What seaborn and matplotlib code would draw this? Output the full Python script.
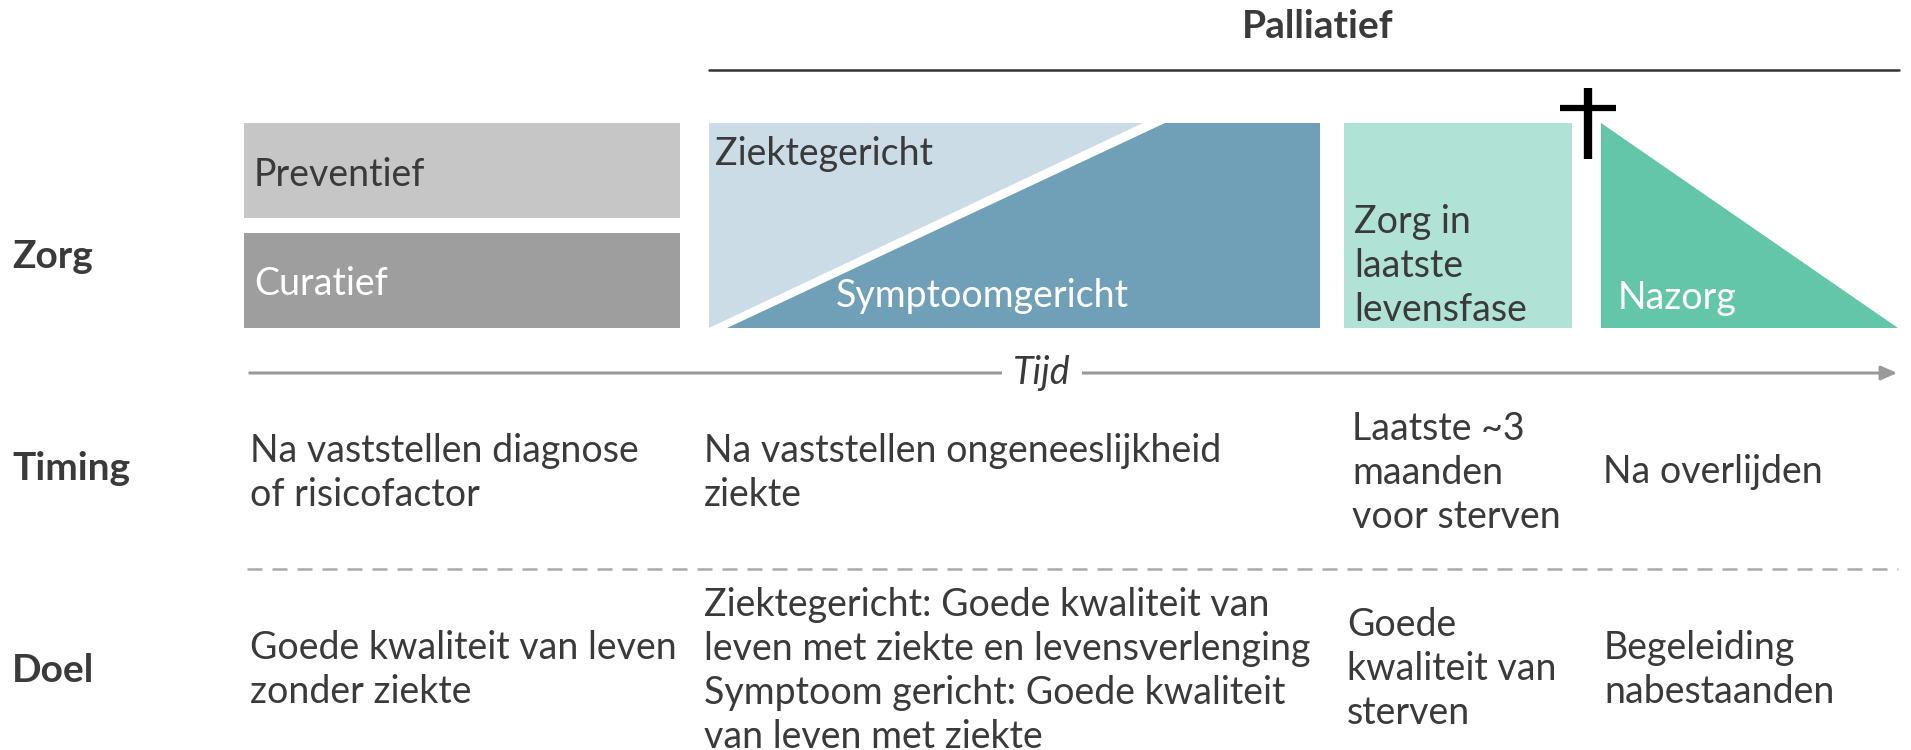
import matplotlib.pyplot as plt
import seaborn as sns
from matplotlib.patches import Polygon, Rectangle

# tekst uit het schema
rij_labels = ["Zorg", "Timing", "Doel"]
zorg_labels = ["Preventief", "Curatief", "Ziektegericht", "Symptoomgericht",
               "Zorg in\nlaatste\nlevensfase", "Nazorg"]
timing_teksten = ["Na vaststellen diagnose\nof risicofactor",
                  "Na vaststellen ongeneeslijkheid\nziekte",
                  "Laatste ~3\nmaanden\nvoor sterven",
                  "Na overlijden"]
doel_teksten = ["Goede kwaliteit van leven\nzonder ziekte",
                "Ziektegericht: Goede kwaliteit van\nleven met ziekte en levensverlenging\n"
                "Symptoom gericht: Goede kwaliteit\nvan leven met ziekte",
                "Goede\nkwaliteit van\nsterven",
                "Begeleiding\nnabestaanden"]
titel = "Palliatief"
as_label = "Tijd"

sns.set_theme(style="white")
plt.rcParams['font.family'] = ['Lato', 'DejaVu Sans']

W, H = 1911, 750
fig = plt.figure(figsize=(W / 100, H / 100), dpi=100)
ax = fig.add_axes([0, 0, 1, 1])
ax.set_xlim(0, W)
ax.set_ylim(H, 0)
ax.axis('off')

tekstkleur = '#3a3a3a'
fs = 27
fs_bold = 28
ls = 1.27

# kolommen (x links) en rijen
kol_x = [250, 704, 1352, 1603]
top, mid1, mid2, bodem = 123, 218, 233, 328

# Preventief / Curatief
ax.add_patch(Rectangle((244, top), 436, mid1 - top, color='#c6c6c6', lw=0))
ax.add_patch(Rectangle((244, mid2), 436, bodem - mid2, color='#9e9e9e', lw=0))
ax.text(254, 175, zorg_labels[0], fontsize=fs, color=tekstkleur, va='center')
ax.text(254, 284, zorg_labels[1], fontsize=fs, color='white', va='center')

# Ziektegericht / Symptoomgericht
ax.add_patch(Polygon([(709, top), (1143, top), (709, bodem)], color='#cbdce6', lw=0))
ax.add_patch(Polygon([(727, bodem), (1165, top), (1320, top), (1320, bodem)],
                     color='#6fa0b8', lw=0))
ax.text(715, 154, zorg_labels[2], fontsize=fs, color=tekstkleur, va='center')
ax.text(836, 296, zorg_labels[3], fontsize=fs, color='white', va='center')

# Zorg in laatste levensfase
ax.add_patch(Rectangle((1344, top), 228, bodem - top, color='#b0e3d5', lw=0))
ax.text(1354, 266, zorg_labels[4], fontsize=fs, color=tekstkleur, va='center',
        linespacing=ls)

# Nazorg
ax.add_patch(Polygon([(1601, top), (1898, bodem), (1601, bodem)], color='#64c6a9', lw=0))
ax.text(1618, 298, zorg_labels[5], fontsize=fs, color='white', va='center')

# kruis
ax.plot([1588, 1588], [88, 159], color='black', lw=6, solid_capstyle='butt')
ax.plot([1560, 1616], [108, 108], color='black', lw=4.5, solid_capstyle='butt')

# Palliatief
ax.plot([709, 1899], [70, 70], color='#333333', lw=1.8)
ax.text(1318, 27, titel, fontsize=fs_bold, fontweight='bold', color=tekstkleur,
        ha='center', va='center')

# tijdas
ax.annotate('', xy=(1900, 373), xytext=(247, 373),
            arrowprops=dict(arrowstyle='-|>,head_length=0.8,head_width=0.35',
                            color='#999999', lw=2.2))
ax.text(1042, 373, as_label, fontsize=fs, style='italic', color=tekstkleur,
        ha='center', va='center',
        bbox=dict(facecolor='white', edgecolor='none', pad=8))

# rijlabels
for lab, y in zip(rij_labels, [256, 469, 670]):
    ax.text(12, y, lab, fontsize=fs_bold, fontweight='bold', color=tekstkleur, va='center')

# timing rij
timing_y = [473, 473, 473, 472]
for x, y, t in zip(kol_x, timing_y, timing_teksten):
    ax.text(x, y, t, fontsize=fs, color=tekstkleur, va='center', linespacing=ls)

# stippellijn
ax.plot([247, 1898], [569, 569], color='#aaaaaa', lw=1.8, ls=(0, (6, 4)))

# doel rij
doel_y = [670, 671, 669, 670]
doel_x = [250, 704, 1347, 1604]
for x, y, t in zip(doel_x, doel_y, doel_teksten):
    ax.text(x, y, t, fontsize=fs, color=tekstkleur, va='center', linespacing=ls)

fig.savefig('out.png', dpi=100)
